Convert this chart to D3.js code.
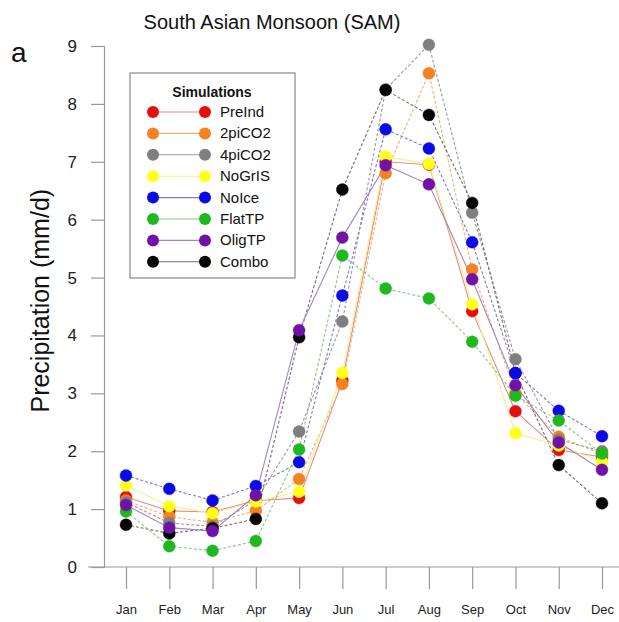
<!DOCTYPE html>
<html>
<head>
<meta charset="utf-8">
<script src="https://cdn.jsdelivr.net/npm/d3@7"></script>
<style>
  body { margin: 0; background: #fff; }
  svg { font-family: "Liberation Sans", Arial, sans-serif; }
</style>
</head>
<body>
<div id="container"></div>
<script>
/* DATA */
const months = ["Jan", "Feb", "Mar", "Apr", "May", "Jun", "Jul", "Aug", "Sep", "Oct", "Nov", "Dec"]
const simulations = ["PreInd", "2piCO2", "4piCO2", "NoGrIS", "NoIce", "FlatTP", "OligTP", "Combo"]
const yTicks = [0, 1, 2, 3, 4, 5, 6, 7, 8, 9]

const preInd  = [1.21, 0.97, 0.95, 1.15, 1.19, 3.22, 7.00, 6.95, 4.42, 2.69, 2.02, 1.90]
const piCO2x2 = [1.15, 0.87, 0.77, 0.97, 1.52, 3.16, 6.80, 8.53, 5.14, 3.00, 2.25, 1.95]
const piCO2x4 = [1.12, 0.76, 0.70, 1.15, 2.34, 4.24, 8.25, 9.02, 6.12, 3.59, 2.20, 2.00]
const noGrIS  = [1.41, 1.05, 0.93, 1.13, 1.30, 3.35, 7.09, 6.96, 4.54, 2.31, 2.10, 1.82]
const noIce   = [1.58, 1.35, 1.15, 1.40, 1.81, 4.69, 7.56, 7.23, 5.61, 3.35, 2.70, 2.26]
const flatTP  = [0.96, 0.36, 0.28, 0.45, 2.03, 5.38, 4.81, 4.64, 3.89, 2.96, 2.53, 1.96]
const oligTP  = [1.07, 0.68, 0.62, 1.24, 4.09, 5.69, 6.94, 6.61, 4.97, 3.14, 2.15, 1.68]
const combo   = [0.73, 0.58, 0.67, 0.83, 3.97, 6.52, 8.24, 7.81, 6.29, 3.35, 1.76, 1.10]

const seriesValues = [preInd, piCO2x2, piCO2x4, noGrIS, noIce, flatTP, oligTP, combo]

/* STYLES */
const colors = ["#e41010", "#f58220", "#7f7f7f", "#ffff1a", "#0a0ae6", "#1fb81f", "#7012a8", "#050505"]
const dashes = [null, "3,2", "3,2", null, "3,2", "3,2", null, "3,2"]
const lineColors = ["#e88a8a", "#f0b070", "#9a9a9a", "#f2ee90", "#7c7cc4", "#84c884", "#a584c4", "#707070"]

const width = 619, height = 622
const margin = { top: 46, bottom: 55, left: 104, right: 17 }
const radius = 6

const svg = d3.select("#container")
  .append("svg")
  .attr("width", width)
  .attr("height", height)

/* SCALES */
const xScale = d3.scalePoint()
  .domain(months)
  .range([126, 602])

const yScale = d3.scaleLinear()
  .domain([0, 9])
  .range([567, 46])

/* AXES */
// y axis
const yAxis = d3.axisLeft(yScale).tickValues(yTicks).tickSize(13).tickPadding(14)
const gy = svg.append("g")
  .attr("transform", `translate(${margin.left},0)`)
  .call(yAxis)
gy.select(".domain").attr("stroke", "#999").attr("stroke-width", 1.2)
gy.selectAll(".tick line").attr("stroke", "#999").attr("stroke-width", 1.2)
gy.selectAll(".tick text")
  .style("font-size", "17px")
  .attr("fill", "#222")

// x axis baseline + month ticks
svg.append("line")
  .attr("x1", 88).attr("x2", width)
  .attr("y1", yScale(0)).attr("y2", yScale(0))
  .attr("stroke", "#999")
  .attr("stroke-width", 1.2)

const xAxis = d3.axisBottom(xScale).tickSize(22).tickPadding(16)
const gx = svg.append("g")
  .attr("transform", `translate(0,${yScale(0)})`)
  .call(xAxis)
gx.select(".domain").remove()
gx.selectAll(".tick line").attr("stroke", "#999").attr("stroke-width", 1.2)
gx.selectAll(".tick text")
  .style("font-size", "13px")
  .attr("fill", "#222")

/* LINES + POINTS */
const line = d3.line()
  .x((d, i) => xScale(months[i]))
  .y(d => yScale(d))

const drawOrder = [0, 1, 2, 7, 3, 4, 5, 6]

svg.append("g")
  .selectAll("path")
  .data(drawOrder)
  .join("path")
  .attr("d", s => line(seriesValues[s]))
  .attr("fill", "none")
  .attr("stroke", s => lineColors[s])
  .attr("stroke-width", 1.1)
  .attr("stroke-dasharray", s => dashes[s])

drawOrder.forEach(s => {
  svg.append("g")
    .selectAll("circle")
    .data(seriesValues[s])
    .join("circle")
    .attr("cx", (d, i) => xScale(months[i]))
    .attr("cy", d => yScale(d))
    .attr("r", radius)
    .attr("fill", colors[s])
    .attr("stroke", colors[s])
    .attr("stroke-opacity", 0.4)
    .attr("stroke-width", 1)
})

/* TITLES */
svg.append("text")
  .attr("x", 272)
  .attr("y", 29)
  .attr("text-anchor", "middle")
  .style("font-size", "20px")
  .attr("fill", "#111")
  .text("South Asian Monsoon (SAM)")

svg.append("text")
  .attr("x", 11)
  .attr("y", 62)
  .style("font-size", "28px")
  .attr("fill", "#111")
  .text("a")

svg.append("text")
  .attr("transform", "rotate(-90)")
  .attr("x", -(yScale(4.6)))
  .attr("y", 49)
  .attr("text-anchor", "middle")
  .style("font-size", "25px")
  .attr("fill", "#111")
  .text("Precipitation (mm/d)")

/* LEGEND */
const legend = svg.append("g")

legend.append("rect")
  .attr("x", 130).attr("y", 73)
  .attr("width", 165).attr("height", 205)
  .attr("fill", "#fff")
  .attr("stroke", "#888")
  .attr("stroke-width", 1.2)

legend.append("text")
  .attr("x", 212).attr("y", 97)
  .attr("text-anchor", "middle")
  .style("font-size", "14px")
  .style("font-weight", "bold")
  .attr("fill", "#111")
  .text("Simulations")

const rowY = i => 112 + i * 21.4

legend.selectAll("line.key")
  .data(simulations)
  .join("line")
  .attr("x1", 153).attr("x2", 205)
  .attr("y1", (d, i) => rowY(i)).attr("y2", (d, i) => rowY(i))
  .attr("stroke", (d, i) => lineColors[i])
  .attr("stroke-width", 1.1)

legend.selectAll("circle.l")
  .data(simulations)
  .join("circle")
  .attr("cx", 153)
  .attr("cy", (d, i) => rowY(i))
  .attr("r", radius)
  .attr("fill", (d, i) => colors[i])

legend.selectAll("circle.r")
  .data(simulations)
  .join("circle")
  .attr("cx", 205)
  .attr("cy", (d, i) => rowY(i))
  .attr("r", radius)
  .attr("fill", (d, i) => colors[i])

legend.selectAll("text.key")
  .data(simulations)
  .join("text")
  .attr("x", 220)
  .attr("y", (d, i) => rowY(i) + 5)
  .style("font-size", "15px")
  .attr("fill", "#111")
  .text(d => d)
</script>
</body>
</html>
